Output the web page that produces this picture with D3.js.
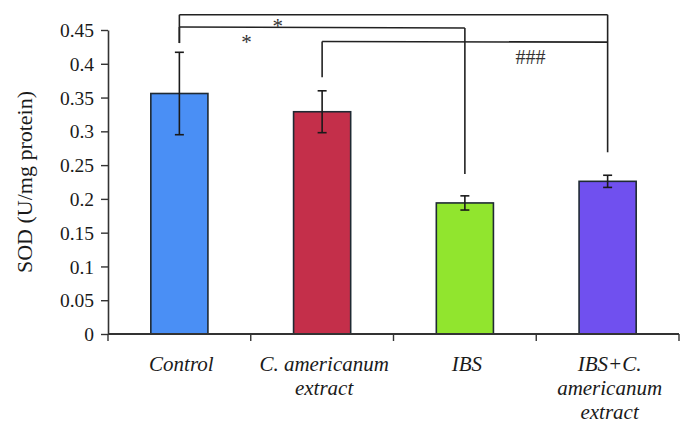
<!DOCTYPE html>
<html>
<head>
<meta charset="utf-8">
<script src="https://cdn.jsdelivr.net/npm/d3@7"></script>
<style>
  html, body { margin: 0; padding: 0; background: #fff; }
  svg { display: block; }
</style>
</head>
<body>
<svg id="chart" width="694" height="435"></svg>
<script>
// ---- data ----
const categories = ["Control", "C. americanum extract", "IBS", "IBS+C. americanum extract"];
const categoryLines = [["Control"], ["C. americanum", "extract"], ["IBS"], ["IBS+C.", "americanum", "extract"]];
const values = [0.356, 0.329, 0.194, 0.226];
const errors = [0.061, 0.031, 0.0105, 0.009];
const colors = ["#4a8ff5", "#c42f4a", "#91e52e", "#7050ef"];
const yTicks = [0, 0.05, 0.1, 0.15, 0.2, 0.25, 0.3, 0.35, 0.4, 0.45];
const yTitle = "SOD (U/mg protein)";
// significance brackets: from/to category index, bracket level, leg ends (data units), label
const brackets = [
  { from: 0, to: 3, levelL: 0.4726, levelR: 0.4726, legL: 0.4307, legR: 0.269, label: "*", labelAt: 0.23, labelY: 0.4450 },
  { from: 0, to: 2, levelL: 0.4545, levelR: 0.4530, legL: 0.4307, legR: 0.237, label: "*", labelAt: 0.235, labelY: 0.4225 },
  { from: 1, to: 3, levelL: 0.4330, levelR: 0.4320, legL: 0.380, legR: null, label: "###", labelAt: 0.73, labelY: 0.400 }
];

const FONT = '"Liberation Serif", "Times New Roman", serif';

// ---- layout ----
const svg = d3.select("#chart");
const x0 = 108, x1 = 679, yBottom = 334, yTop = 30;

const x = d3.scaleBand().domain(categories).range([x0, x1]).paddingInner(0.6).paddingOuter(0.3);
const y = d3.scaleLinear().domain([0, 0.45]).range([yBottom, yTop]);
const step = x.step();
const cx = i => x(categories[i]) + x.bandwidth() / 2;

// y axis
const yAxis = d3.axisLeft(y).tickValues(yTicks).tickSize(7).tickSizeOuter(0)
  .tickFormat(d => d === 0 ? "0" : String(+d.toFixed(2)));
const gy = svg.append("g").attr("transform", `translate(${x0},0)`).call(yAxis);
gy.select(".domain").attr("stroke", "#333").attr("stroke-width", 1.6);
gy.selectAll(".tick line").attr("stroke", "#333").attr("stroke-width", 1.4);
gy.selectAll(".tick text").attr("x", -14).attr("dy", "0.34em")
  .style("font-size", "19.5px").style("font-family", FONT).attr("fill", "#1a1a1a");

// y title
svg.append("text")
  .attr("transform", `translate(32,182) rotate(-90)`)
  .attr("text-anchor", "middle")
  .style("font-family", FONT)
  .style("font-size", "22px")
  .attr("fill", "#1a1a1a")
  .text(yTitle);

// bars
svg.append("g").selectAll("rect").data(values).join("rect")
  .attr("x", (d, i) => x(categories[i]))
  .attr("width", x.bandwidth())
  .attr("y", d => y(d))
  .attr("height", d => y(0) - y(d))
  .attr("fill", (d, i) => colors[i])
  .attr("stroke", "#1f2a33")
  .attr("stroke-width", 1.6);

// error bars
const eg = svg.append("g").attr("stroke", "#1a1a1a").attr("stroke-width", 1.6);
values.forEach((v, i) => {
  const c = cx(i);
  eg.append("line").attr("x1", c).attr("x2", c).attr("y1", y(v + errors[i])).attr("y2", y(v - errors[i]));
  eg.append("line").attr("x1", c - 4.5).attr("x2", c + 4.5).attr("y1", y(v + errors[i])).attr("y2", y(v + errors[i]));
  eg.append("line").attr("x1", c - 4.5).attr("x2", c + 4.5).attr("y1", y(v - errors[i])).attr("y2", y(v - errors[i]));
});

// x axis
const gx = svg.append("g");
gx.append("line").attr("x1", x0).attr("x2", x1).attr("y1", yBottom).attr("y2", yBottom)
  .attr("stroke", "#333").attr("stroke-width", 1.8);
d3.range(categories.length + 1).forEach(k => {
  const tx = x0 + k * step;
  gx.append("line").attr("x1", tx).attr("x2", tx).attr("y1", yBottom).attr("y2", yBottom + 7)
    .attr("stroke", "#333").attr("stroke-width", 1.4);
});

// x labels
categoryLines.forEach((lines, i) => {
  const t = svg.append("text")
    .attr("text-anchor", "middle")
    .style("font-family", FONT)
    .style("font-size", "21px").style("font-style", "italic")
    .attr("fill", "#1a1a1a");
  lines.forEach((ln, j) => {
    t.append("tspan").attr("x", cx(i) + 2).attr("y", yBottom + 37 + j * 24).text(ln);
  });
});

// significance brackets
const bg = svg.append("g").attr("stroke", "#222").attr("stroke-width", 1.6).attr("fill", "none");
brackets.forEach(b => {
  const xl = cx(b.from), xr = cx(b.to);
  bg.append("line").attr("x1", xl).attr("x2", xr).attr("y1", y(b.levelL)).attr("y2", y(b.levelR));
  bg.append("line").attr("x1", xl).attr("x2", xl).attr("y1", y(b.levelL)).attr("y2", y(b.legL));
  if (b.legR !== null) bg.append("line").attr("x1", xr).attr("x2", xr).attr("y1", y(b.levelR)).attr("y2", y(b.legR));
  svg.append("text")
    .attr("x", xl + (xr - xl) * b.labelAt)
    .attr("y", y(b.labelY))
    .attr("text-anchor", "middle")
    .style("font-family", FONT)
    .style("font-size", b.label === "*" ? "21px" : "20px")
    .attr("fill", "#333")
    .text(b.label);
});
</script>
</body>
</html>
